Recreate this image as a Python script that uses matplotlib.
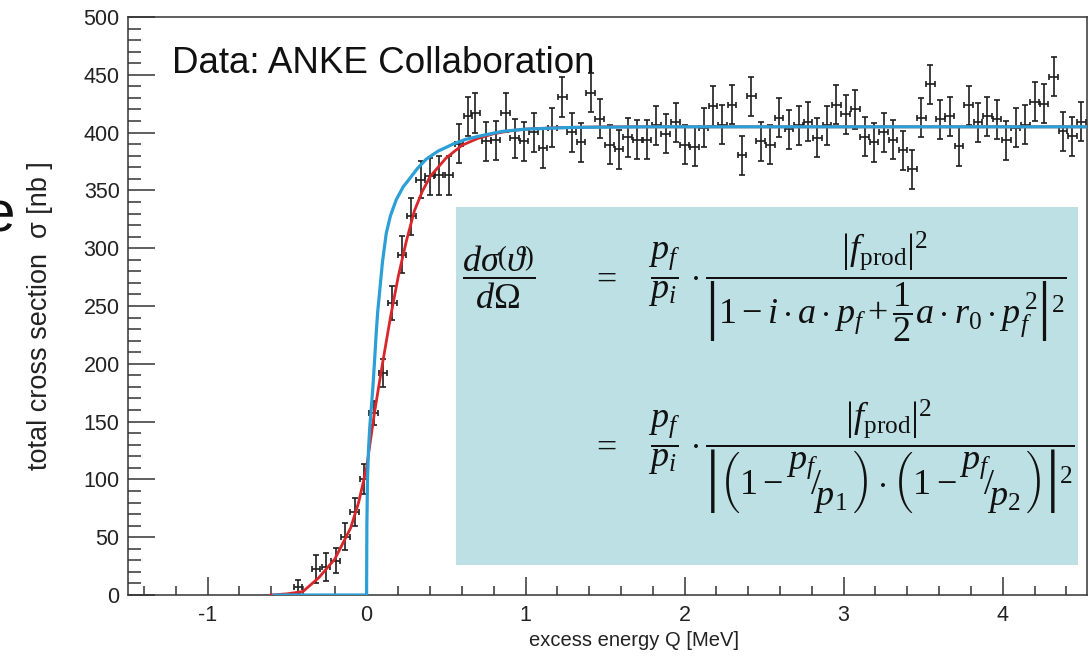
import matplotlib
matplotlib.use('Agg')
import matplotlib.pyplot as plt
from matplotlib.patches import Rectangle
from matplotlib.ticker import MultipleLocator

plt.rcParams['font.family'] = ['Liberation Sans', 'DejaVu Sans']
plt.rcParams['mathtext.fontset'] = 'custom'
plt.rcParams['mathtext.rm'] = 'Liberation Serif'
plt.rcParams['mathtext.it'] = 'Liberation Serif:italic'
plt.rcParams['mathtext.bf'] = 'Liberation Serif:bold'
plt.rcParams['mathtext.fallback'] = 'cm'
plt.rcParams['axes.unicode_minus'] = False

# ANKE data points (excess energy Q in MeV, total cross section in nb)
q = [-0.432, -0.317, -0.254, -0.195, -0.134, -0.075, -0.017, 0.044, 0.103, 0.162,
     0.222, 0.281, 0.340, 0.396, 0.455, 0.518, 0.581, 0.637, 0.684, 0.753,
     0.811, 0.874, 0.931, 0.990, 1.050, 1.109, 1.168, 1.231, 1.289, 1.348,
     1.409, 1.465, 1.528, 1.587, 1.642, 1.702, 1.763, 1.822, 1.881, 1.943,
     2.000, 2.063, 2.119, 2.178, 2.237, 2.298, 2.361, 2.419, 2.478, 2.539,
     2.593, 2.656, 2.717, 2.776, 2.835, 2.895, 2.954, 3.013, 3.074, 3.132,
     3.191, 3.252, 3.310, 3.373, 3.432, 3.489, 3.545, 3.608, 3.667, 3.725,
     3.786, 3.845, 3.904, 3.964, 4.023, 4.082, 4.143, 4.201, 4.260, 4.321,
     4.379, 4.438, 4.495]
sigma = [6.6, 22.2, 24.5, 29.7, 50.5, 72.1, 100.2, 157.4, 192.0, 252.6,
         294.4, 327.6, 359.4, 362.3, 362.9, 362.9, 390.3, 414.2, 417.0, 392.6,
         393.2, 417.2, 394.9, 392.6, 400.3, 386.8, 404.2, 430.7, 400.3, 391.7,
         434.5, 412.0, 389.7, 385.4, 395.8, 394.0, 394.0, 406.2, 399.2, 409.0,
         389.7, 387.7, 404.2, 422.9, 407.0, 424.3, 380.2, 431.5, 392.6, 389.7,
         412.8, 402.7, 406.2, 409.4, 395.5, 406.2, 424.3, 415.7, 420.0, 396.4,
         391.7, 400.3, 394.0, 384.8, 368.1, 412.8, 441.7, 411.4, 414.2, 388.2,
         423.5, 409.0, 414.2, 411.4, 393.4, 404.2, 407.0, 426.7, 424.9, 448.3,
         401.2, 396.9, 409.4]
sigma_err = [6, 12, 12, 11, 12, 12, 13, 10, 12, 15,
             16, 16, 16, 16, 17, 17, 17, 17, 17, 17,
             17, 17, 17, 17, 17, 17, 17, 17, 17, 17,
             17, 17, 17, 17, 17, 17, 17, 17, 17, 17,
             17, 17, 17, 17, 17, 17, 17, 17, 17, 17,
             17, 17, 17, 17, 17, 17, 17, 17, 17, 17,
             17, 17, 17, 17, 17, 17, 17, 17, 17, 17,
             17, 17, 17, 17, 17, 17, 17, 17, 17, 17,
             17, 17, 17]
q_err = 0.027

# fit curves
red_q = [-0.60, -0.50, -0.40, -0.30, -0.20, -0.10, -0.05, 0.00, 0.05, 0.10,
         0.15, 0.20, 0.25, 0.30, 0.35, 0.40, 0.50, 0.60, 0.70, 0.80,
         0.90, 1.00, 1.20, 1.50, 2.00, 4.53]
red_sigma = [0, 1, 3, 15, 31, 58, 80, 110, 158, 200,
             240, 276, 306, 332, 349, 362, 378, 389, 395, 399,
             401.5, 403, 404.3, 405, 405, 405]

blue_q = [-0.58, 0.0, 0.002, 0.006, 0.012, 0.02, 0.03, 0.04, 0.05, 0.061,
          0.07, 0.082, 0.10, 0.124, 0.15, 0.187, 0.23, 0.27, 0.32, 0.375,
          0.45, 0.543, 0.62, 0.71, 0.85, 1.0, 1.3, 1.8, 4.53]
blue_sigma = [0, 0, 60, 100, 125, 145, 162, 180, 202, 227,
              245, 262, 288, 313, 328, 342, 353, 360, 369, 377,
              384, 390, 394, 397, 401, 403, 404.5, 405, 405]

W, H = 1090, 661
fig = plt.figure(figsize=(W / 100, H / 100), dpi=100)
ax = fig.add_axes([128 / W, 1 - 595 / H, (1087 - 128) / W, (595 - 17) / H])

ax.errorbar(q, sigma, yerr=sigma_err, xerr=q_err, fmt='none', ecolor='#1e1e1e',
            elinewidth=1.2, capsize=2.3, capthick=1.2, zorder=2)
ax.plot(red_q, red_sigma, color='#d9262b', lw=2.0, zorder=3)
ax.plot(blue_q, blue_sigma, color='#2b9fd6', lw=2.3, zorder=4)

ax.set_xlim(-1.5, 4.53)
ax.set_ylim(0, 500)
ax.xaxis.set_major_locator(MultipleLocator(1))
ax.xaxis.set_minor_locator(MultipleLocator(0.2))
ax.yaxis.set_major_locator(MultipleLocator(50))
ax.yaxis.set_minor_locator(MultipleLocator(10))
ax.tick_params(which='both', direction='in', top=False, right=False,
               color='#333333', width=1.1, labelsize=15.5, labelcolor='#222222')
ax.tick_params(axis='x', which='major', length=13, pad=7)
ax.tick_params(axis='x', which='minor', length=6.5)
ax.tick_params(axis='y', which='major', length=19.5, pad=6)
ax.tick_params(axis='y', which='minor', length=9.5)
for s in ax.spines.values():
    s.set_linewidth(1.1)
    s.set_color('#333333')

fig.text(634 / W, 1 - 640 / H, 'excess energy Q [MeV]', ha='center', va='center',
         fontsize=14.5, color='#222222')
fig.text(40 / W, 1 - 316 / H, 'total cross section  \u03c3 [nb ]', rotation=90,
         ha='center', va='center', fontsize=19.5, color='#222222')
fig.text(15 / W, 1 - 216 / H, 'e', ha='right', va='center', fontsize=42, color='#111111')
fig.text(172 / W, 1 - 73 / H, 'Data: ANKE Collaboration', ha='left', va='baseline',
         fontsize=26.5, color='#111111')

# formula box
box = Rectangle((456 / W, 1 - 565 / H), (1078 - 456) / W, (565 - 207) / H,
                transform=fig.transFigure, facecolor='#bce0e3', edgecolor='none', zorder=6)
fig.patches.append(box)

eq_lhs = r'$\dfrac{d\sigma\left(\vartheta\right)}{d\Omega}$'
eq_rhs1 = (r'$\dfrac{p_f}{p_i}\,\cdot\dfrac{\left|f_{\mathrm{prod}}\right|^2}'
           r'{\left|1-i\cdot a\cdot p_f+\dfrac{1}{2}a\cdot r_0\cdot p_f^{\,2}\right|^2}$')
sl1 = r'\genfrac{}{}{0}{0}{p_f}{\,}\!\!/\!\genfrac{}{}{0}{0}{\,}{p_1}'
sl2 = r'\genfrac{}{}{0}{0}{p_f}{\,}\!\!/\!\genfrac{}{}{0}{0}{\,}{p_2}'
eq_rhs2 = (r'$\dfrac{p_f}{p_i}\,\cdot\dfrac{\left|f_{\mathrm{prod}}\right|^2}'
           r'{\left|\left(1-' + sl1 + r'\right)\cdot\left(1-' + sl2 + r'\right)\right|^2}$')

eq_kw = dict(ha='left', va='baseline', fontsize=26, zorder=7, color='#111111')
base1 = 1 - 289 / H
base2 = 1 - 457 / H
fig.text(462 / W, base1, eq_lhs, **eq_kw)
fig.text(591 / W, base1, r'$=$', **eq_kw)
fig.text(648 / W, base1, eq_rhs1, **eq_kw)
fig.text(591 / W, base2, r'$=$', **eq_kw)
fig.text(648 / W, base2, eq_rhs2, **eq_kw)

fig.savefig('out.png', dpi=100)
